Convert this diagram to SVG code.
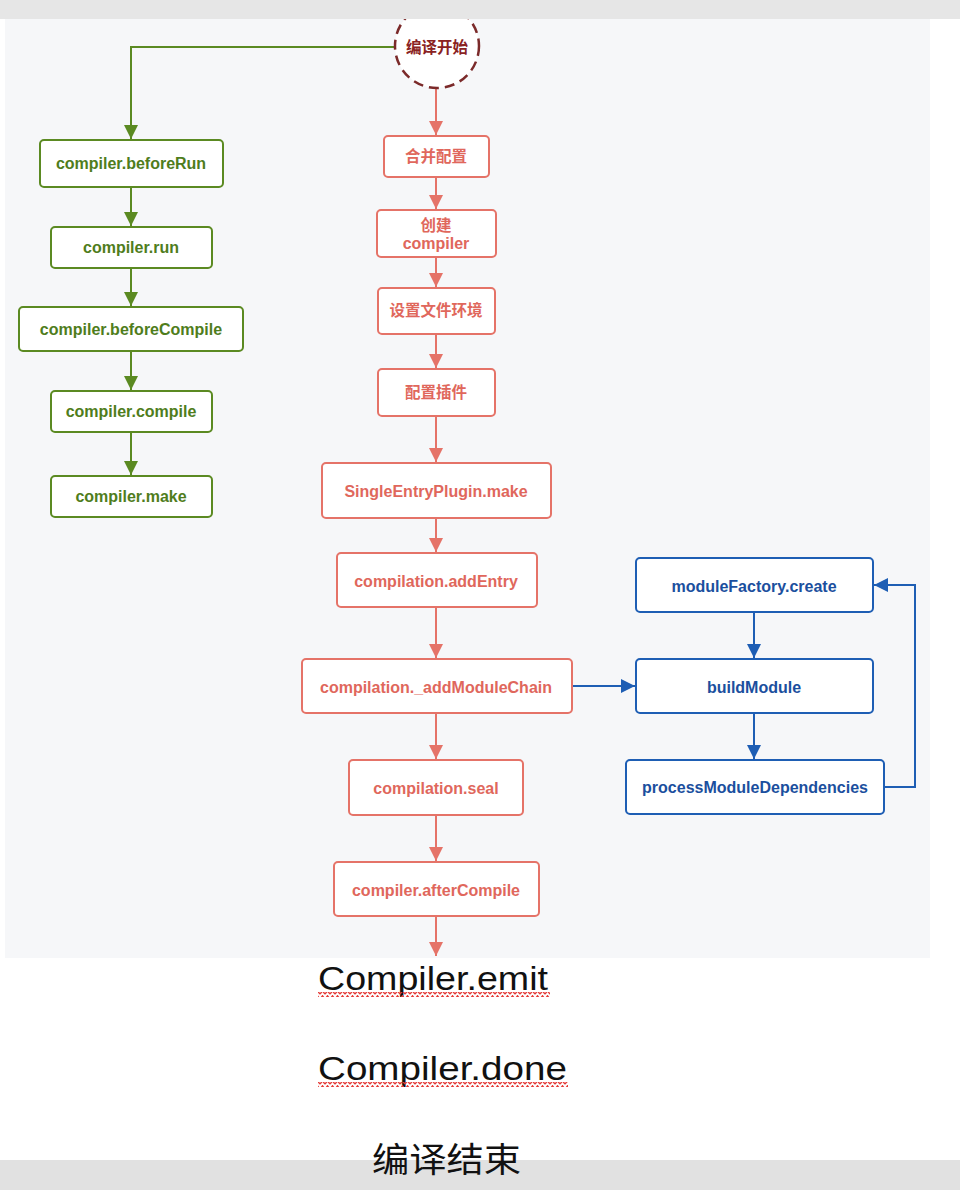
<svg xmlns="http://www.w3.org/2000/svg" width="960" height="1190" viewBox="0 0 960 1190">
<style>
.g{fill:#fff;stroke:#5b8a22;stroke-width:2}
.r{fill:#fff;stroke:#e57368;stroke-width:2}
.b{fill:#fff;stroke:#1e5eb4;stroke-width:2}
.t{font-family:"Liberation Sans","Noto Sans CJK SC",sans-serif;font-weight:bold;font-size:16px;text-anchor:middle}
.tg{fill:#4f7d1c}
.tr{fill:#e0675c}
.tb{fill:#1b4f9e}
.cj{font-size:15.5px}
.lg{fill:none;stroke:#5b8a22;stroke-width:2}
.lr{fill:none;stroke:#e57368;stroke-width:2}
.lb{fill:none;stroke:#1e5eb4;stroke-width:2}
.big{font-family:"Liberation Sans","Noto Sans CJK SC",sans-serif;font-size:34px;fill:#111}
</style>
<defs>
<marker id="ag" viewBox="0 0 10 10" refX="10" refY="5" markerWidth="7" markerHeight="7" orient="auto" markerUnits="strokeWidth"><path d="M0 0L10 5L0 10z" fill="#5b8a22"/></marker>
<marker id="ar" viewBox="0 0 10 10" refX="10" refY="5" markerWidth="7" markerHeight="7" orient="auto" markerUnits="strokeWidth"><path d="M0 0L10 5L0 10z" fill="#e57368"/></marker>
<marker id="ab" viewBox="0 0 10 10" refX="10" refY="5" markerWidth="7" markerHeight="7" orient="auto" markerUnits="strokeWidth"><path d="M0 0L10 5L0 10z" fill="#1e5eb4"/></marker>
<pattern id="sq" x="0" y="0" width="5" height="5" patternUnits="userSpaceOnUse"><path d="M0 4.2L2.5 0.8L5 4.2" fill="none" stroke="#e53935" stroke-width="1.4"/></pattern>
</defs>
<rect x="0" y="0" width="960" height="1190" fill="#fff"/>
<rect x="5" y="19" width="925" height="939" fill="#f6f7f9"/>

<g id="connectors">
<path class="lg" d="M395 47H131V139" marker-end="url(#ag)"/>
<path class="lg" d="M131 187V226" marker-end="url(#ag)"/>
<path class="lg" d="M131 268V306" marker-end="url(#ag)"/>
<path class="lg" d="M131 351V390" marker-end="url(#ag)"/>
<path class="lg" d="M131 432V475" marker-end="url(#ag)"/>
<path class="lr" d="M436 88V135" marker-end="url(#ar)"/>
<path class="lr" d="M436 177V209" marker-end="url(#ar)"/>
<path class="lr" d="M436 257V287" marker-end="url(#ar)"/>
<path class="lr" d="M436 334V368" marker-end="url(#ar)"/>
<path class="lr" d="M436 416V462" marker-end="url(#ar)"/>
<path class="lr" d="M436 518V552" marker-end="url(#ar)"/>
<path class="lr" d="M436 607V658" marker-end="url(#ar)"/>
<path class="lr" d="M436 713V759" marker-end="url(#ar)"/>
<path class="lr" d="M436 815V861" marker-end="url(#ar)"/>
<path class="lr" d="M436 916V956" marker-end="url(#ar)"/>
<path class="lb" d="M572 686H635" marker-end="url(#ab)"/>
<path class="lb" d="M754 612V658" marker-end="url(#ab)"/>
<path class="lb" d="M754 713V759" marker-end="url(#ab)"/>
<path class="lb" d="M884 787H915V585H874" marker-end="url(#ab)"/>
</g>

<g id="start">
<circle cx="437" cy="46" r="42" fill="#fff" stroke="#7b2a2a" stroke-width="2.5" stroke-dasharray="10 6"/>
<text class="t cj" x="437" y="53" fill="#8a2222">编译开始</text>
</g>

<g id="beforeRun"><rect class="g" x="40" y="140" width="183" height="47" rx="4"/><text class="t tg" x="131" y="169">compiler.beforeRun</text></g>
<g id="run"><rect class="g" x="51" y="227" width="161" height="41" rx="4"/><text class="t tg" x="131" y="253">compiler.run</text></g>
<g id="beforeCompile"><rect class="g" x="19" y="307" width="224" height="44" rx="4"/><text class="t tg" x="131" y="335">compiler.beforeCompile</text></g>
<g id="compile"><rect class="g" x="51" y="391" width="161" height="41" rx="4"/><text class="t tg" x="131" y="417">compiler.compile</text></g>
<g id="make"><rect class="g" x="51" y="476" width="161" height="41" rx="4"/><text class="t tg" x="131" y="502">compiler.make</text></g>

<g id="merge"><rect class="r" x="384" y="136" width="105" height="41" rx="4"/><text class="t tr cj" x="436" y="162">合并配置</text></g>
<g id="create"><rect class="r" x="377" y="210" width="119" height="47" rx="4"/><text class="t tr cj" x="436" y="231">创建</text><text class="t tr" x="436" y="249">compiler</text></g>
<g id="env"><rect class="r" x="378" y="288" width="117" height="46" rx="4"/><text class="t tr cj" x="436" y="316">设置文件环境</text></g>
<g id="plugins"><rect class="r" x="378" y="369" width="117" height="47" rx="4"/><text class="t tr cj" x="436" y="398">配置插件</text></g>
<g id="sep"><rect class="r" x="322" y="463" width="229" height="55" rx="4"/><text class="t tr" x="436" y="497">SingleEntryPlugin.make</text></g>
<g id="addEntry"><rect class="r" x="337" y="553" width="200" height="54" rx="4"/><text class="t tr" x="436" y="587">compilation.addEntry</text></g>
<g id="addModuleChain"><rect class="r" x="302" y="659" width="270" height="54" rx="4"/><text class="t tr" x="436" y="693">compilation._addModuleChain</text></g>
<g id="seal"><rect class="r" x="349" y="760" width="174" height="55" rx="4"/><text class="t tr" x="436" y="794">compilation.seal</text></g>
<g id="afterCompile"><rect class="r" x="334" y="862" width="205" height="54" rx="4"/><text class="t tr" x="436" y="896">compiler.afterCompile</text></g>

<g id="moduleFactory"><rect class="b" x="636" y="558" width="237" height="54" rx="4"/><text class="t tb" x="754" y="592">moduleFactory.create</text></g>
<g id="buildModule"><rect class="b" x="636" y="659" width="237" height="54" rx="4"/><text class="t tb" x="754" y="693">buildModule</text></g>
<g id="processDeps"><rect class="b" x="626" y="760" width="258" height="54" rx="4"/><text class="t tb" x="755" y="793">processModuleDependencies</text></g>

<g id="notes">
<text class="big" x="318" y="990" textLength="230" lengthAdjust="spacingAndGlyphs">Compiler.emit</text>
<rect x="318" y="992" width="232" height="5" fill="url(#sq)"/>
<text class="big" x="318" y="1080" textLength="249" lengthAdjust="spacingAndGlyphs">Compiler.done</text>
<rect x="318" y="1082" width="250" height="5" fill="url(#sq)"/>
</g>
<rect x="0" y="1160" width="960" height="30" fill="#e1e1e1"/>
<text class="big" x="372" y="1172" font-size="37" textLength="149" lengthAdjust="spacingAndGlyphs">编译结束</text>
<rect x="0" y="0" width="960" height="19" fill="#e6e6e6"/>
</svg>
